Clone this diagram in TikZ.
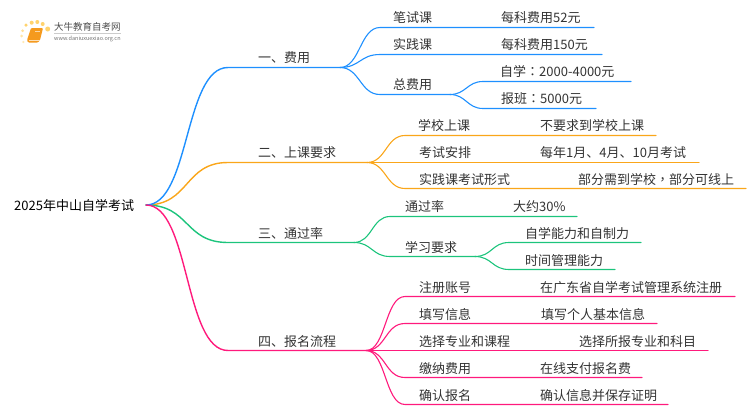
\documentclass[tikz,border=0pt]{standalone}
\usepackage{fontspec}
\setmainfont{Noto Sans CJK SC}
\newfontfamily\puncfont{Noto Sans CJK TC}
\definecolor{feeblue}{HTML}{1E90FF}
\definecolor{classorange}{HTML}{FAA61A}
\definecolor{passgreen}{HTML}{1CC47C}
\definecolor{signpink}{HTML}{FF1A7C}
\definecolor{bookorange}{HTML}{F59A1E}
\definecolor{dotyellow}{HTML}{FFD36E}
\tikzset{
	txt/.style={anchor=west, inner sep=0pt, yshift=-1pt, font=\fontsize{13}{15}\selectfont, text=black!80},
	rootTxt/.style={txt, text=black},
	twig/.style={line width=1.1pt, line cap=round},
	bough/.style={line width=1.4pt, line cap=round},
	spot/.style={circle, inner sep=0pt, fill=dotyellow},
	logoTxt/.style={anchor=west, inner sep=0pt, text=black!70}
}
\begin{document}
\begin{tikzpicture}[x=1pt, y=-1pt]
	\useasboundingbox (0,0) rectangle (750,410);

	% logo
	\node[spot, minimum size=3pt, fill=dotyellow!70](dotA) at (22.7,30.7){};
	\node[spot, minimum size=3pt, fill=dotyellow!60](dotB) at (21.7,36){};
	\node[spot, minimum size=2.5pt, fill=dotyellow!50](dotC) at (23.3,42){};
	\node[spot, minimum size=3.5pt](dotD) at (26,25){};
	\node[spot, minimum size=4pt](dotE) at (31.7,22.7){};
	\node[spot, minimum size=4pt](dotF) at (37.3,22){};
	\node[spot, minimum size=4pt](dotG) at (42.7,24){};
	\node[spot, minimum size=5pt](dotH) at (47.7,29){};
	\fill[bookorange, rounded corners=1pt] (31,28) -- (43,28) -- (40,40) -- (38,42.5) -- (28,42.5) -- (27,40) -- cycle;
	\draw[white!70!bookorange, line width=0.7pt] (28.5,40.5) -- (39.5,40.5);
	\draw[white!60!bookorange, line width=0.6pt] (35,31.5) -- (40,31.5);
	\node[logoTxt, font=\fontsize{9.5}{11}\selectfont](logoName) at (54,27){大牛教育自考网};
	\node[logoTxt, font=\fontsize{5.5}{6}\selectfont, text=black!55](logoUrl) at (54,38.5){www.daniuxuexiao.org.cn};
	\draw[black!20, line width=0.5pt] (54,33) -- (121,33);

	% root
	\node[rootTxt](root) at (14,205){2025年中山自学考试};
	\coordinate (hub) at (146,205);

	% first level
	\node[txt](fee) at (258,57){一、费用};
	\node[txt](class) at (258,152){二、上课要求};
	\node[txt](pass) at (258,233){三、通过率};
	\node[txt](sign) at (258,341){四、报名流程};
	\coordinate (feeS) at (228,67.5);
	\coordinate (feeE) at (340,67.5);
	\coordinate (classS) at (228,162.5);
	\coordinate (classE) at (367,162.5);
	\coordinate (passS) at (228,242.5);
	\coordinate (passE) at (354,242.5);
	\coordinate (signS) at (228,350.5);
	\coordinate (signE) at (366,350.5);

	\draw[bough, classorange] (hub) .. controls +(44,0) and +(-44,0) .. (classS) -- (classE);
	\draw[bough, passgreen] (hub) .. controls +(44,0) and +(-44,0) .. (passS) -- (passE);
	\draw[bough, feeblue] (hub) .. controls +(44,0) and +(-44,0) .. (feeS) -- (feeE);
	\draw[bough, signpink] (hub) .. controls +(44,0) and +(-44,0) .. (signS) -- (signE);

	% fee
	\node[txt](written) at (393,17){笔试课};
	\node[txt](practice) at (393,44){实践课};
	\node[txt](total) at (393,84){总费用};
	\node[txt](writtenFee) at (501,17){每科费用52元};
	\node[txt](practiceFee) at (501,44){每科费用150元};
	\node[txt](selfFee) at (500,71){自学{\puncfont ：}2000-4000元};
	\node[txt](courseFee) at (501,98){报班{\puncfont ：}5000元};
	\coordinate (writtenS) at (380,27.5);
	\coordinate (writtenE) at (594,27.5);
	\coordinate (practiceS) at (380,54.5);
	\coordinate (practiceE) at (602,54.5);
	\coordinate (totalS) at (380,94.5);
	\coordinate (totalE) at (450,94.5);
	\coordinate (selfS) at (483,81.5);
	\coordinate (selfE) at (631,81.5);
	\coordinate (courseS) at (483,108.5);
	\coordinate (courseE) at (596,108.5);
	\draw[twig, feeblue] (feeE) .. controls +(20,0) and +(-20,0) .. (writtenS) -- (writtenE);
	\draw[twig, feeblue] (feeE) .. controls +(20,0) and +(-20,0) .. (practiceS) -- (practiceE);
	\draw[twig, feeblue] (feeE) .. controls +(20,0) and +(-20,0) .. (totalS) -- (totalE);
	\draw[twig, feeblue] (totalE) .. controls +(16,0) and +(-16,0) .. (selfS) -- (selfE);
	\draw[twig, feeblue] (totalE) .. controls +(16,0) and +(-16,0) .. (courseS) -- (courseE);

	% class
	\node[txt](school) at (418,125){学校上课};
	\node[txt](exam) at (419,152){考试安排};
	\node[txt](form) at (419,179){实践课考试形式};
	\node[txt](schoolInfo) at (540,125){不要求到学校上课};
	\node[txt](examInfo) at (540,152){每年1月、4月、10月考试};
	\node[txt](formInfo) at (578,179){部分需到学校{\puncfont ，}部分可线上};
	\coordinate (schoolS) at (405,135.5);
	\coordinate (schoolE) at (656,135.5);
	\coordinate (examE) at (699,162.5);
	\coordinate (formS) at (405,188.5);
	\coordinate (formE) at (746,188.5);
	\draw[twig, classorange] (classE) .. controls +(19,0) and +(-19,0) .. (schoolS) -- (schoolE);
	\draw[twig, classorange] (classE) -- (examE);
	\draw[twig, classorange] (classE) .. controls +(19,0) and +(-19,0) .. (formS) -- (formE);

	% pass
	\node[txt](rate) at (405,206){通过率};
	\node[txt](study) at (405,247){学习要求};
	\node[txt](rateInfo) at (513,206){大约30\%};
	\node[txt](selfAbility) at (525,233){自学能力和自制力};
	\node[txt](timeAbility) at (525,260){时间管理能力};
	\coordinate (rateS) at (390,216.5);
	\coordinate (rateE) at (577,216.5);
	\coordinate (studyS) at (390,256.5);
	\coordinate (studyE) at (475,256.5);
	\coordinate (selfAbilityS) at (509,242.5);
	\coordinate (selfAbilityE) at (641,242.5);
	\coordinate (timeAbilityS) at (509,269.5);
	\coordinate (timeAbilityE) at (615,269.5);
	\draw[twig, passgreen] (passE) .. controls +(18,0) and +(-18,0) .. (rateS) -- (rateE);
	\draw[twig, passgreen] (passE) .. controls +(18,0) and +(-18,0) .. (studyS) -- (studyE);
	\draw[twig, passgreen] (studyE) .. controls +(17,0) and +(-17,0) .. (selfAbilityS) -- (selfAbilityE);
	\draw[twig, passgreen] (studyE) .. controls +(17,0) and +(-17,0) .. (timeAbilityS) -- (timeAbilityE);

	% sign
	\node[txt](account) at (419,287){注册账号};
	\node[txt](fill) at (419,314){填写信息};
	\node[txt](major) at (419,341){选择专业和课程};
	\node[txt](pay) at (419,368){缴纳费用};
	\node[txt](confirm) at (419,395){确认报名};
	\node[txt](accountInfo) at (540,287){在广东省自学考试管理系统注册};
	\node[txt](fillInfo) at (541,314){填写个人基本信息};
	\node[txt](majorInfo) at (579,341){选择所报专业和科目};
	\node[txt](payInfo) at (540,368){在线支付报名费};
	\node[txt](confirmInfo) at (540,395){确认信息并保存证明};
	\coordinate (accountS) at (405,296.5);
	\coordinate (accountE) at (735,296.5);
	\coordinate (fillS) at (405,323.5);
	\coordinate (fillE) at (657,323.5);
	\coordinate (majorE) at (708,350.5);
	\coordinate (payS) at (405,377.5);
	\coordinate (payE) at (642,377.5);
	\coordinate (confirmS) at (405,404.5);
	\coordinate (confirmE) at (668,404.5);
	\draw[twig, signpink] (signE) .. controls +(20,0) and +(-20,0) .. (accountS) -- (accountE);
	\draw[twig, signpink] (signE) .. controls +(20,0) and +(-20,0) .. (fillS) -- (fillE);
	\draw[twig, signpink] (signE) -- (majorE);
	\draw[twig, signpink] (signE) .. controls +(20,0) and +(-20,0) .. (payS) -- (payE);
	\draw[twig, signpink] (signE) .. controls +(20,0) and +(-20,0) .. (confirmS) -- (confirmE);
\end{tikzpicture}
\end{document}
